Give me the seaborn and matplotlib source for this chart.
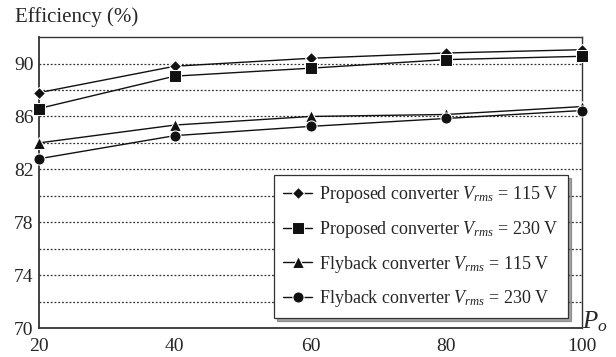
import matplotlib
matplotlib.use("Agg")
import matplotlib.pyplot as plt
import seaborn as sns
import pandas as pd

power = [20, 40, 60, 80, 100]
proposed_115 = [87.8, 89.8, 90.4, 90.8, 91.05]
proposed_230 = [86.6, 89.05, 89.65, 90.3, 90.55]
flyback_115 = [84.0, 85.35, 86.0, 86.15, 86.75]
flyback_230 = [82.8, 84.55, 85.25, 85.85, 86.45]

labels = [
    r"Proposed converter $V_{rms}$ = 115 V",
    r"Proposed converter $V_{rms}$ = 230 V",
    r"Flyback converter $V_{rms}$ = 115 V",
    r"Flyback converter $V_{rms}$ = 230 V",
]
series = [proposed_115, proposed_230, flyback_115, flyback_230]

rows = []
for lab, vals in zip(labels, series):
    for p, v in zip(power, vals):
        rows.append({"Po": p, "eff": v, "series": lab})
df = pd.DataFrame(rows)

sns.set_style("white")
plt.rcParams["font.family"] = ["Liberation Serif", "DejaVu Serif"]
plt.rcParams["mathtext.fontset"] = "custom"
plt.rcParams["mathtext.rm"] = "Liberation Serif"
plt.rcParams["mathtext.it"] = "Liberation Serif:italic"

fig = plt.figure(figsize=(6.16, 3.57), dpi=100)
ax = fig.add_axes([0.0633, 0.0812, 0.8817, 0.8148])

markers = {labels[0]: "D", labels[1]: "s", labels[2]: "^", labels[3]: "o"}
sns.lineplot(data=df, x="Po", y="eff", hue="series", style="series",
             palette=["#111111"] * 4, markers=markers, dashes=False,
             linewidth=1.0, markersize=8, ax=ax, legend=True, zorder=3)
for line, lab in zip(ax.get_lines()[:4], labels):
    line.set_clip_on(False)
    if lab == labels[0]:
        line.set_markersize(6.5)

for y in range(72, 92, 2):
    ax.axhline(y, color="#333333", linestyle=(0, (1.5, 1.5)), linewidth=0.9, zorder=1)

ax.set_xlim(20, 100)
ax.set_ylim(70, 92)
ax.set_xticks([20, 40, 60, 80, 100])
ax.set_yticks([70, 74, 78, 82, 86, 90])
ax.tick_params(axis="x", direction="in", length=5, width=0.8, labelsize=14, pad=7, color="#444444")
ax.tick_params(axis="y", length=0, labelsize=14, pad=4)
ax.set_xlabel("")
ax.set_ylabel("")
for s in ax.spines.values():
    s.set_color("#333333")
    s.set_linewidth(1.0)
ax.spines["bottom"].set_linewidth(1.3)
ax.spines["left"].set_linewidth(1.3)

fig.text(0.024, 0.953, "Efficiency (%)", fontsize=15, ha="left", va="center")
fig.text(0.945, 0.081, r"$P_o$", fontsize=18, ha="left", va="baseline")

handles, labs = ax.get_legend_handles_labels()
for h in handles:
    if h.get_marker() == "D":
        h.set_markersize(6.5)
leg = ax.legend(handles, labs, loc="lower right", bbox_to_anchor=(0.974, 0.034),
                borderaxespad=0.0,
                fontsize=13, frameon=True, fancybox=False, shadow=True,
                edgecolor="#333333", framealpha=1.0, labelspacing=0.75,
                handlelength=1.6, handletextpad=0.4, borderpad=0.5)
leg.get_frame().set_linewidth(0.9)
leg.set_zorder(5)

fig.savefig("out.png", dpi=100)
